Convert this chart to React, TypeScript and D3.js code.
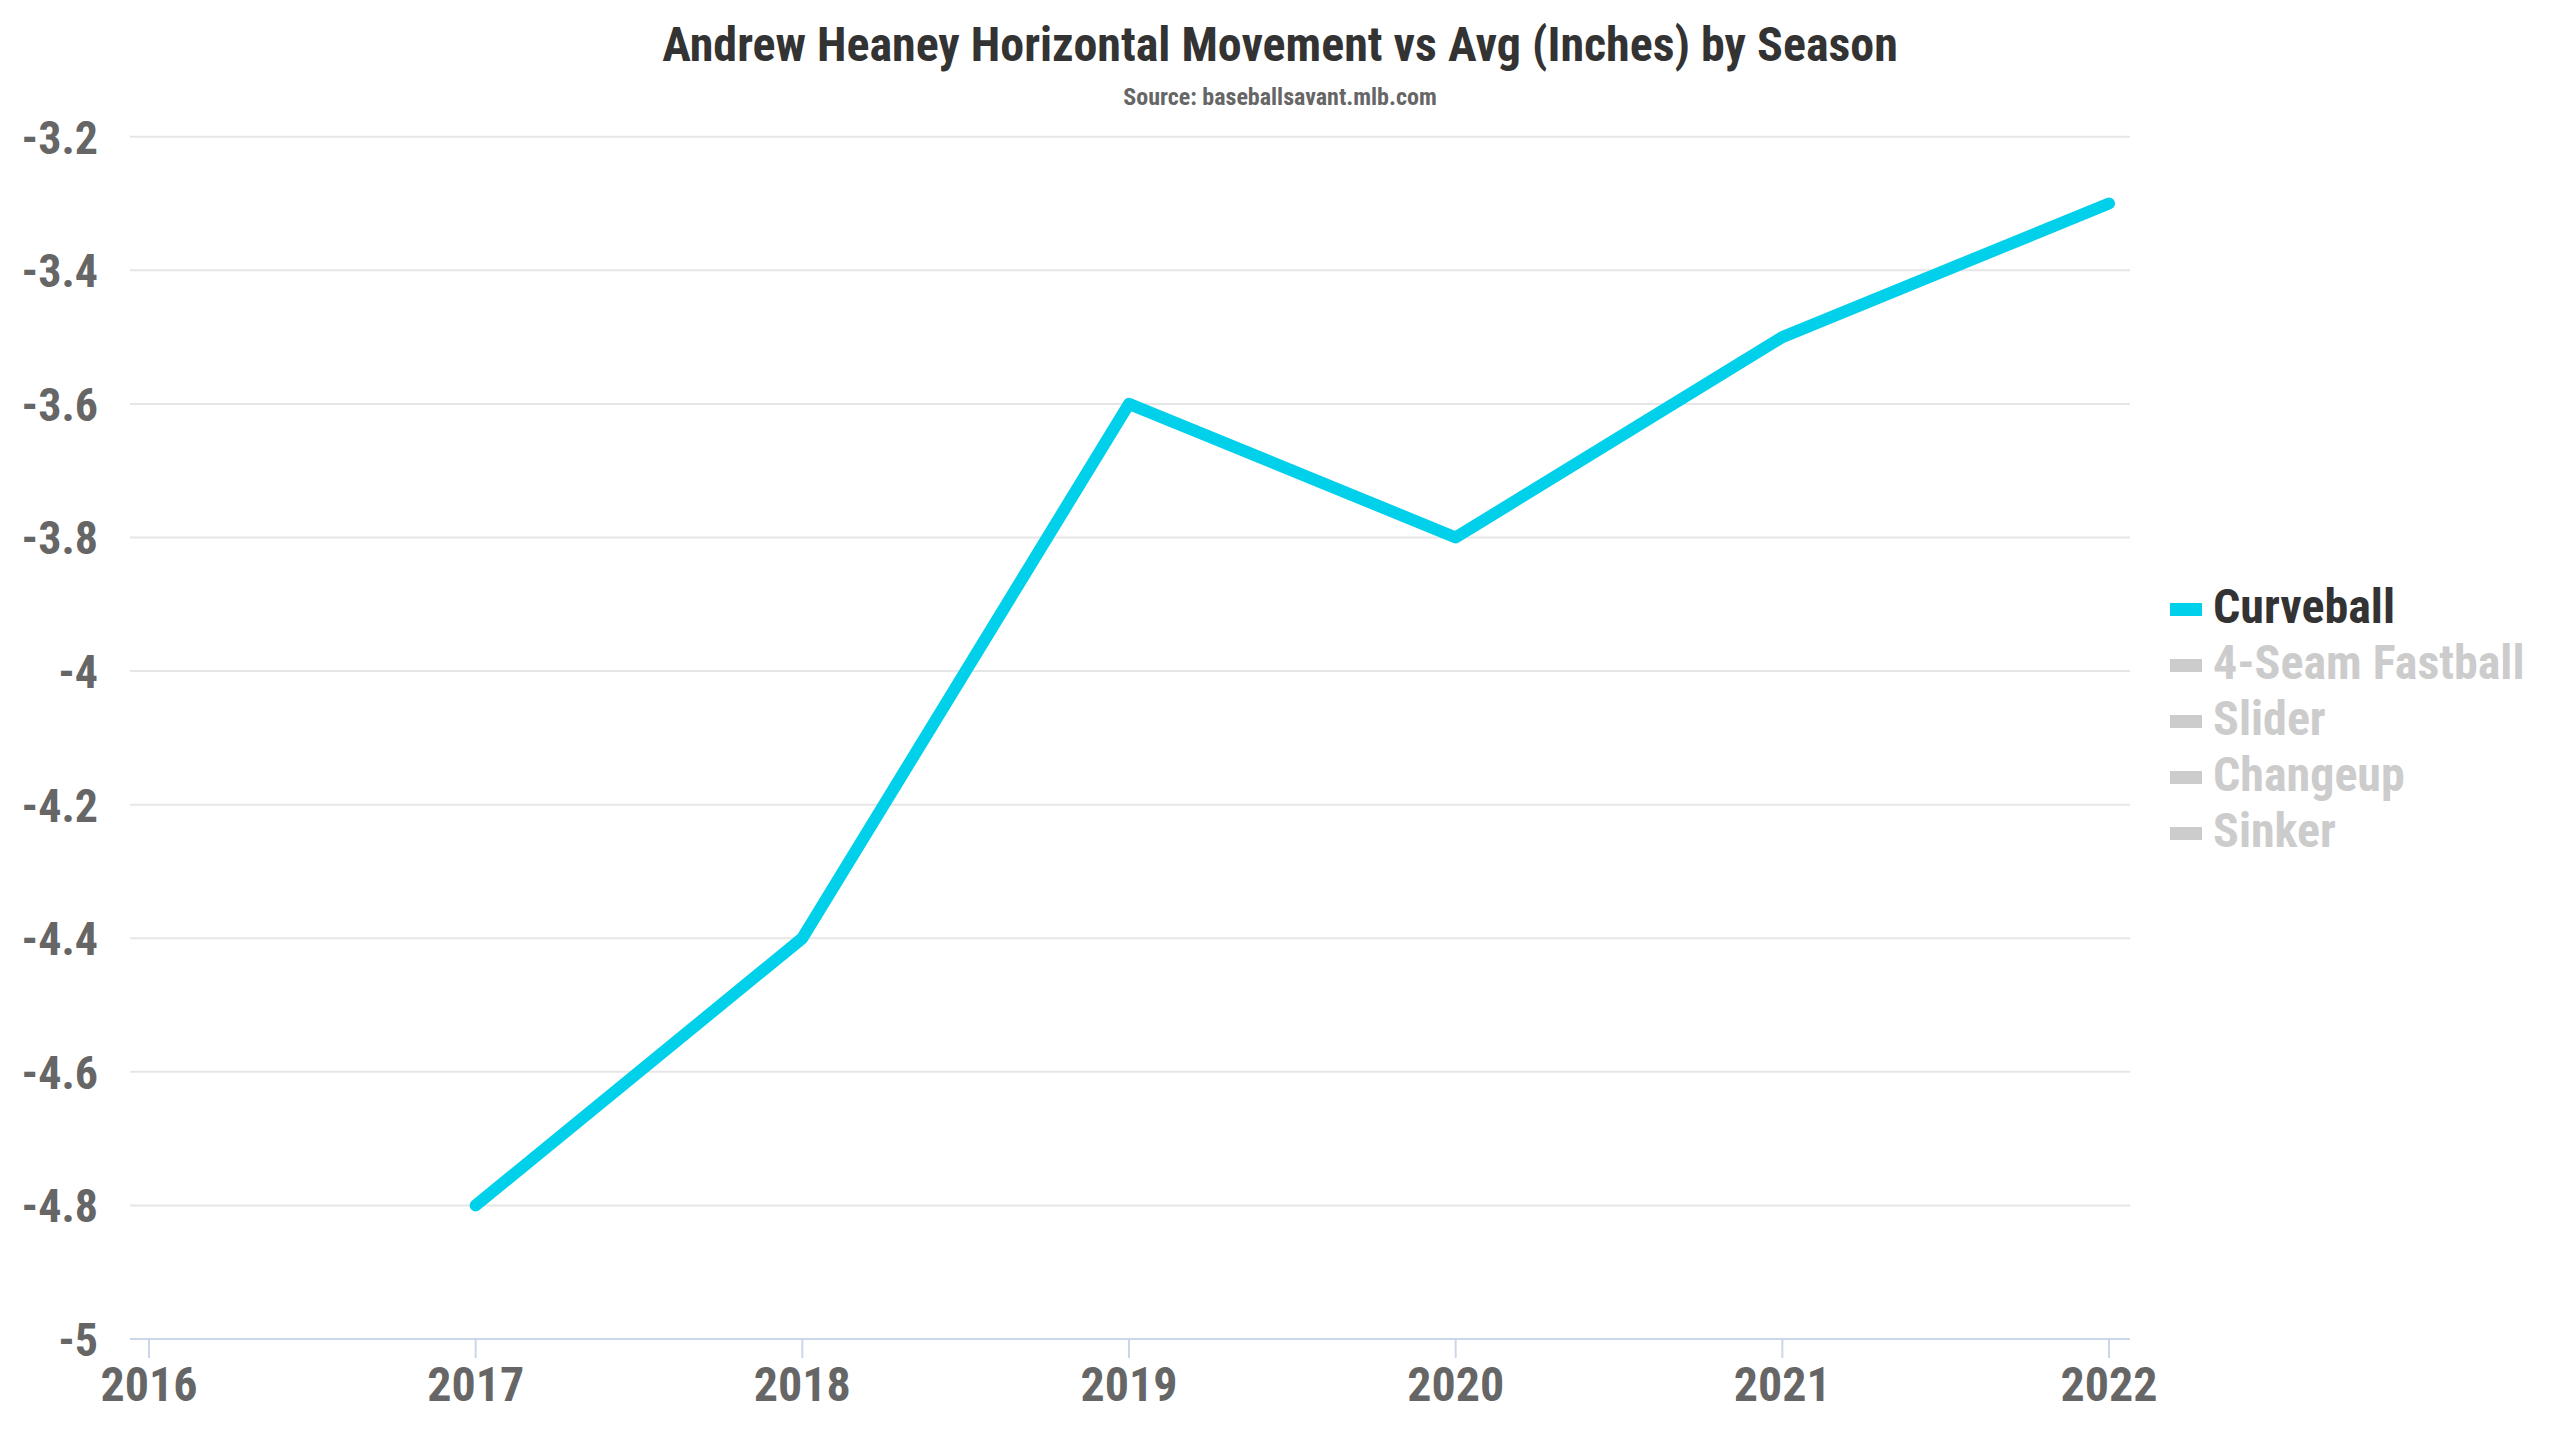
import React from "react";
import * as d3 from "d3";

const seasons = [2017, 2018, 2019, 2020, 2021, 2022];
const curveball = [-4.8, -4.4, -3.6, -3.8, -3.5, -3.3];
const xTicks = [2016, 2017, 2018, 2019, 2020, 2021, 2022];
const yTicks = [-5, -4.8, -4.6, -4.4, -4.2, -4, -3.8, -3.6, -3.4, -3.2];
const legendItems = ["Curveball", "4-Seam Fastball", "Slider", "Changeup", "Sinker"];
const titleText = "Andrew Heaney Horizontal Movement vs Avg (Inches) by Season";
const subtitleText = "Source: baseballsavant.mlb.com";

const W = 2560;
const H = 1440;
const FONT = "Roboto, 'Noto Sans', sans-serif";

export default function App() {
  const x = d3.scaleLinear().domain([2016, 2022]).range([149, 2109]);
  const y = d3.scaleLinear().domain([-5, -3.2]).range([1339, 136.7]);
  const line = d3
    .line<number>()
    .x((_, i) => x(seasons[i]))
    .y((d) => y(d));

  const textStyle: React.CSSProperties = { fontStretch: "condensed" };

  return (
    <svg width={W} height={H} style={{ position: "absolute", left: 0, top: 0, background: "#fff" }} fontFamily={FONT}>
      <rect width={W} height={H} fill="#fff" />
      <text x={1280} y={61} textAnchor="middle" fontSize={48} fontWeight={700} fill="#333" style={textStyle}>
        {titleText}
      </text>
      <text x={1280} y={105} textAnchor="middle" fontSize={24} fontWeight={700} fill="#666" style={textStyle}>
        {subtitleText}
      </text>
      {yTicks.map((t) => (
        <g key={t}>
          {t !== -5 && <line x1={130} x2={2130} y1={y(t)} y2={y(t)} stroke="#e6e6e6" strokeWidth={2} />}
          <text x={98} y={y(t) + 17} textAnchor="end" fontSize={46} fontWeight={700} fill="#666" style={textStyle}>
            {String(t)}
          </text>
        </g>
      ))}
      <line x1={130} x2={2130} y1={1339} y2={1339} stroke="#ccd6eb" strokeWidth={2} />
      {xTicks.map((t) => (
        <g key={t}>
          <line x1={x(t)} x2={x(t)} y1={1339} y2={1358} stroke="#ccd6eb" strokeWidth={2} />
          <text x={x(t)} y={1401} textAnchor="middle" fontSize={48} fontWeight={700} fill="#666" style={textStyle}>
            {t}
          </text>
        </g>
      ))}
      <path d={line(curveball) || ""} fill="none" stroke="#00d0ea" strokeWidth={12} strokeLinecap="round" strokeLinejoin="round" />
      {legendItems.map((name, i) => (
        <g key={name} transform={`translate(0, ${623 + i * 56})`}>
          <rect x={2170} y={-20} width={32} height={13} fill={i === 0 ? "#00d0ea" : "#cccccc"} />
          <text x={2213} y={0} fontSize={48} fontWeight={700} fill={i === 0 ? "#333" : "#cccccc"} style={textStyle}>
            {name}
          </text>
        </g>
      ))}
    </svg>
  );
}
